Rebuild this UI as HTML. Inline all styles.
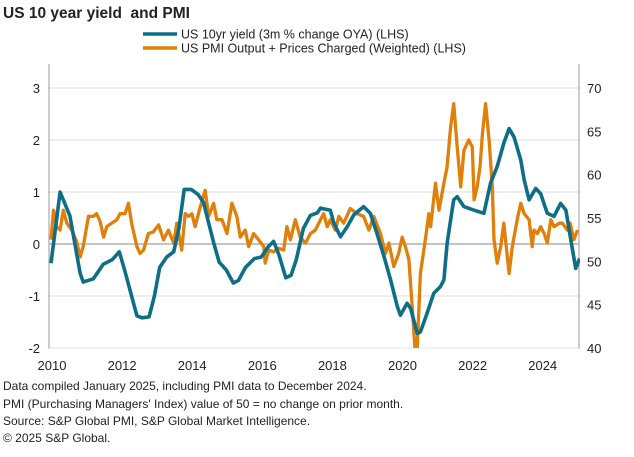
<!DOCTYPE html>
<html><head><meta charset="utf-8"><style>
body{margin:0;background:#fff;font-family:"Liberation Sans",Arial,sans-serif;}
svg{display:block}
text{font-family:"Liberation Sans",Arial,sans-serif;fill:#222}
</style></head><body>
<svg id="chart" width="634" height="457" viewBox="0 0 634 457">
<text x="3" y="18" font-size="15.5" font-weight="bold" fill="#111">US 10 year yield&#160; and PMI</text>
<g>
<line x1="143" y1="34" x2="177" y2="34" stroke="#0e6e87" stroke-width="3.5"/>
<text x="181" y="38.5" font-size="12.5">US 10yr yield (3m % change OYA) (LHS)</text>
<line x1="143" y1="48" x2="177" y2="48" stroke="#e07f0a" stroke-width="3.5"/>
<text x="181" y="52.5" font-size="12.5">US PMI Output + Prices Charged (Weighted) (LHS)</text>
</g>
<defs><clipPath id="plotclip"><rect x="49" y="70" width="531" height="278"/></clipPath></defs>
<g id="grid"></g>
<g id="axes"></g>
<g id="series" clip-path="url(#plotclip)"></g>
<g font-size="12">
<text x="3" y="390">Data compiled January 2025, including PMI data to December 2024.</text>
<text x="3" y="408">PMI (Purchasing Managers' Index) value of 50 = no change on prior month.</text>
<text x="3" y="425">Source: S&amp;P Global PMI, S&amp;P Global Market Intelligence.</text>
<text x="3" y="442">© 2025 S&amp;P Global.</text>
</g>
</svg>
<script>
const leftTicks=[3,2,1,0,-1,-2];
const rightTicks=[70,65,60,55,50,45,40];
const yearTicks=[2010,2012,2014,2016,2018,2020,2022,2024];
const yieldDates=[2010.0,2010.26,2010.54,2010.83,2010.92,2011.21,2011.49,2011.75,2011.95,2012.1,2012.3,2012.45,2012.6,2012.8,2012.95,2013.1,2013.3,2013.5,2013.65,2013.8,2014.0,2014.2,2014.35,2014.5,2014.65,2014.8,2015.0,2015.2,2015.35,2015.55,2015.8,2016.0,2016.2,2016.35,2016.5,2016.7,2016.85,2017.0,2017.2,2017.4,2017.6,2017.69,2017.97,2018.07,2018.26,2018.45,2018.64,2018.92,2019.11,2019.3,2019.5,2019.69,2019.88,2019.97,2020.16,2020.26,2020.45,2020.54,2020.73,2020.92,2021.11,2021.21,2021.3,2021.4,2021.49,2021.59,2021.78,2022.07,2022.35,2022.54,2022.73,2022.92,2023.07,2023.21,2023.4,2023.5,2023.64,2023.83,2023.97,2024.16,2024.35,2024.54,2024.69,2024.83,2024.97,2025.08];
const yieldValues=[-0.37,1.0,0.54,-0.56,-0.73,-0.67,-0.39,-0.3,-0.15,-0.5,-1.0,-1.38,-1.42,-1.4,-1.0,-0.45,-0.25,-0.15,0.3,1.05,1.05,0.95,0.8,0.4,0.0,-0.35,-0.5,-0.75,-0.7,-0.45,-0.28,-0.25,-0.05,0.05,-0.2,-0.65,-0.6,-0.3,0.3,0.55,0.6,0.69,0.65,0.4,0.14,0.33,0.56,0.72,0.59,0.2,-0.24,-0.69,-1.2,-1.37,-1.14,-1.24,-1.72,-1.69,-1.33,-0.95,-0.82,-0.69,0.01,0.46,0.85,0.91,0.72,0.65,0.59,1.17,1.49,1.94,2.22,2.06,1.62,1.23,0.85,1.07,0.97,0.59,0.53,0.78,0.65,0.08,-0.47,-0.28];
const pmiDates=[2010.0,2010.07,2010.16,2010.26,2010.35,2010.45,2010.59,2010.73,2010.83,2010.92,2011.07,2011.21,2011.3,2011.4,2011.5,2011.59,2011.73,2011.88,2011.97,2012.11,2012.21,2012.3,2012.45,2012.54,2012.64,2012.78,2012.92,2013.07,2013.21,2013.35,2013.5,2013.59,2013.73,2013.83,2013.92,2014.02,2014.11,2014.26,2014.4,2014.5,2014.64,2014.73,2014.88,2015.02,2015.16,2015.3,2015.4,2015.54,2015.64,2015.78,2015.92,2016.07,2016.11,2016.21,2016.35,2016.5,2016.64,2016.73,2016.83,2016.97,2017.11,2017.26,2017.4,2017.54,2017.69,2017.78,2017.88,2017.97,2018.11,2018.21,2018.35,2018.54,2018.73,2018.92,2019.07,2019.21,2019.4,2019.54,2019.64,2019.78,2019.92,2020.02,2020.11,2020.21,2020.31,2020.4,2020.45,2020.54,2020.69,2020.78,2020.83,2020.97,2021.07,2021.21,2021.3,2021.4,2021.49,2021.59,2021.69,2021.78,2021.92,2022.02,2022.07,2022.16,2022.24,2022.31,2022.4,2022.5,2022.59,2022.64,2022.73,2022.83,2022.92,2023.07,2023.16,2023.3,2023.4,2023.5,2023.64,2023.73,2023.78,2023.88,2023.97,2024.07,2024.16,2024.26,2024.35,2024.5,2024.59,2024.73,2024.81,2024.92,2025.02];
const pmiValues=[52.5,55.9,54.0,53.6,55.9,54.4,53.6,52.3,50.5,51.7,55.2,55.2,55.5,54.6,52.8,54.0,54.4,54.8,55.5,55.5,56.7,54.4,51.7,50.9,51.3,53.2,53.4,54.2,52.5,53.6,52.1,54.4,51.3,55.5,55.2,55.5,54.0,56.3,58.2,55.2,56.7,54.8,54.8,53.2,56.7,55.2,52.8,53.6,51.7,53.2,52.5,51.7,49.8,51.3,51.1,51.5,51.3,54.0,52.5,54.8,52.8,52.1,53.2,53.6,54.8,55.5,54.0,54.8,53.6,55.2,54.4,56.1,55.5,55.2,53.6,55.2,53.2,50.9,52.1,49.4,50.9,52.8,51.7,50.2,44.4,39.0,40.2,48.6,52.8,55.5,54.0,59.0,55.9,59.0,60.9,65.5,68.2,63.2,58.6,62.8,64.0,63.2,57.1,58.6,60.9,64.8,68.2,64.0,58.6,52.5,49.8,51.7,54.4,48.6,51.7,54.8,56.7,55.5,54.8,51.7,53.6,53.2,54.0,53.2,52.1,54.8,54.0,54.4,54.4,53.6,54.4,52.5,53.6,53.2];

const NS='http://www.w3.org/2000/svg';
const X0=49,X1=579,YT=88,YB=348;
const xScale=t=>51+(t-2010)*35.05;
const yLeft=v=>YT+(3-v)*(YB-YT)/5;
const yRight=v=>YT+(70-v)*(YB-YT)/30;
function mk(tag,attrs,parent){const e=document.createElementNS(NS,tag);for(const k in attrs)e.setAttribute(k,attrs[k]);parent.appendChild(e);return e;}
const grid=document.getElementById('grid'),axes=document.getElementById('axes'),series=document.getElementById('series');
leftTicks.forEach(v=>{
  const y=yLeft(v);
  if(v!==0&&v!==-2){const g=mk('line',{x1:X0,x2:X1,y1:y,y2:y,stroke:'#dcdcdc','stroke-width':1},grid);
  
  }
  const t=mk('text',{x:40,y:y+5,'text-anchor':'end','font-size':13,fill:'#333'},axes);t.textContent=v;
  
  
});
rightTicks.forEach(v=>{
  const t=mk('text',{x:587,y:yRight(v)+5,'font-size':13,fill:'#333'},axes);t.textContent=v;
  
  
});
yearTicks.forEach(v=>{
  const t=mk('text',{x:xScale(v)+1,y:370,'text-anchor':'middle','font-size':13,fill:'#333'},axes);t.textContent=v;
  
  
});
const z=mk('line',{x1:X0,x2:X1,y1:yLeft(0),y2:yLeft(0),stroke:'#8a8a8a','stroke-width':1},axes);


const la=mk('line',{x1:X0,x2:X0,y1:64,y2:349,stroke:'#999','stroke-width':1},axes);


const ra=mk('line',{x1:X1,x2:X1,y1:64,y2:349,stroke:'#999','stroke-width':1},axes);


const ba=mk('line',{x1:X0,x2:X1,y1:348,y2:348,stroke:'#e6e6e6','stroke-width':1},axes);


const pp=pmiDates.map((d,i)=>xScale(d).toFixed(1)+','+yRight(pmiValues[i]).toFixed(1)).join(' ');
const pl=mk('polyline',{points:pp,fill:'none',stroke:'#e07f0a','stroke-width':3.3,'stroke-linejoin':'round'},series);


const yp=yieldDates.map((d,i)=>xScale(d).toFixed(1)+','+yLeft(yieldValues[i]).toFixed(1)).join(' ');
const yl=mk('polyline',{points:yp,fill:'none',stroke:'#0e6e87','stroke-width':3.6,'stroke-linejoin':'round'},series);


</script>
</body></html>
